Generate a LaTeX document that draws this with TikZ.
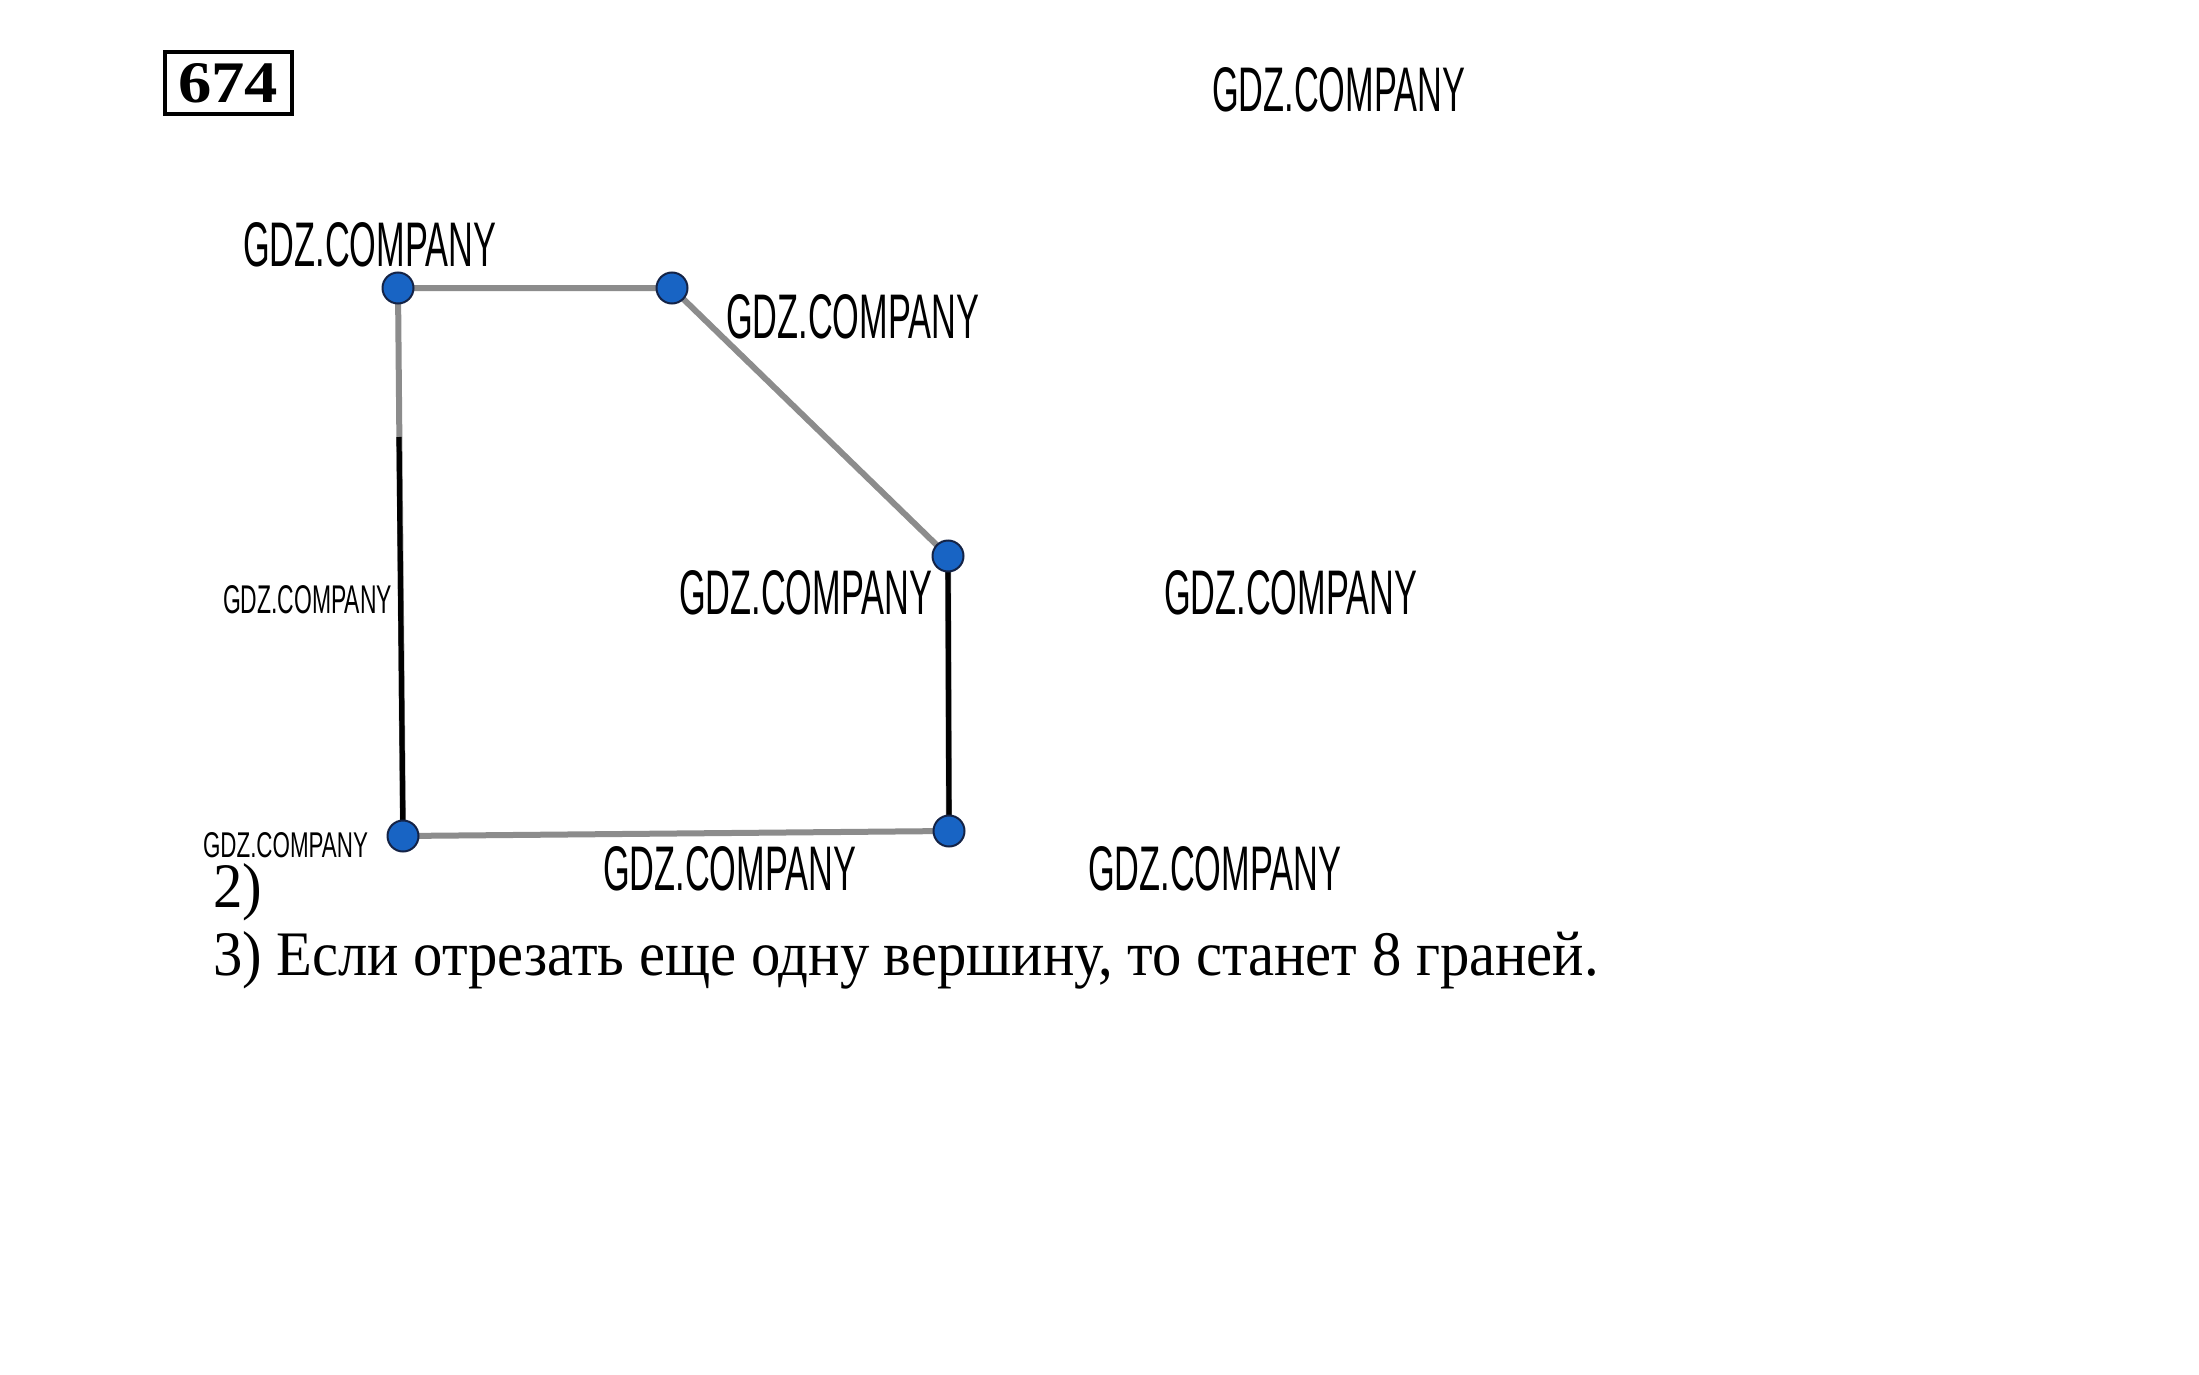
\documentclass[tikz,border=0pt]{standalone}
\usepackage{fontspec}
\usepackage{graphicx}
\setmainfont{Liberation Serif}
\newfontfamily\wmfont{Liberation Sans}
\definecolor{edgegray}{RGB}{140,140,140}
\definecolor{dotblue}{RGB}{24,100,196}
\definecolor{dotrim}{RGB}{20,35,70}
\tikzset{
  edge/.style={draw=edgegray,line width=3pt},
  blackedge/.style={draw=black,line width=2.6pt},
  dot/.style={circle,fill=dotblue,draw=dotrim,line width=1pt,minimum size=15.5pt,inner sep=0pt},
  txt/.style={anchor=base west,inner sep=0pt,outer sep=0pt},
}
\newcommand{\bigwm}{\resizebox{126.5pt}{22pt}{\wmfont GDZ.COMPANY}}
\begin{document}
\begin{tikzpicture}[x=0.5pt,y=-0.5pt]
\useasboundingbox[fill=white] (0,0) rectangle (2199,1375);
% number box
\node[draw=black,line width=2.2pt,minimum width=63.5pt,minimum height=31pt,inner sep=0pt] (num) at (228.5,83) {};
\node[txt] (numtxt) at (178,103) {\resizebox{50pt}{19.5pt}{\bfseries 674}};
% vertices
\coordinate (A) at (398,288);
\coordinate (B) at (672,288);
\coordinate (C) at (948,556);
\coordinate (D) at (949,831);
\coordinate (E) at (403,836);
\coordinate (AEm) at (399,437);
% edges
\draw[edge] (A) -- (B) -- (C) -- (D) -- (E) -- cycle;
\draw[blackedge] (AEm) -- (E);
\draw[blackedge] (C) -- (D);
% dots
\foreach \p in {A,B,C,D,E} \node[dot] (dot\p) at (\p) {};
% watermarks
\node[txt] (w1) at (1212,112) {\bigwm};
\node[txt] (w2) at (243,266) {\bigwm};
\node[txt] (w3) at (726,338) {\bigwm};
\node[txt] (w4) at (679,614) {\bigwm};
\node[txt] (w5) at (1164,614) {\bigwm};
\node[txt] (w6) at (603,890) {\bigwm};
\node[txt] (w7) at (1088,890) {\bigwm};
\node[txt] (w8) at (223,613) {\resizebox{84.5pt}{14pt}{\wmfont GDZ.COMPANY}};
\node[txt] (w9) at (203,857) {\resizebox{82.5pt}{12.5pt}{\wmfont GDZ.COMPANY}};
% answer lines
\node[txt] (l2) at (213,907) {\resizebox{24.5pt}{\height}{\fontsize{31.7pt}{36pt}\selectfont 2)}};
\node[txt] (l3) at (213,975) {\resizebox{693pt}{\height}{\fontsize{31.7pt}{36pt}\selectfont 3) Если отрезать еще одну вершину, то станет 8 граней.}};
\end{tikzpicture}
\end{document}
